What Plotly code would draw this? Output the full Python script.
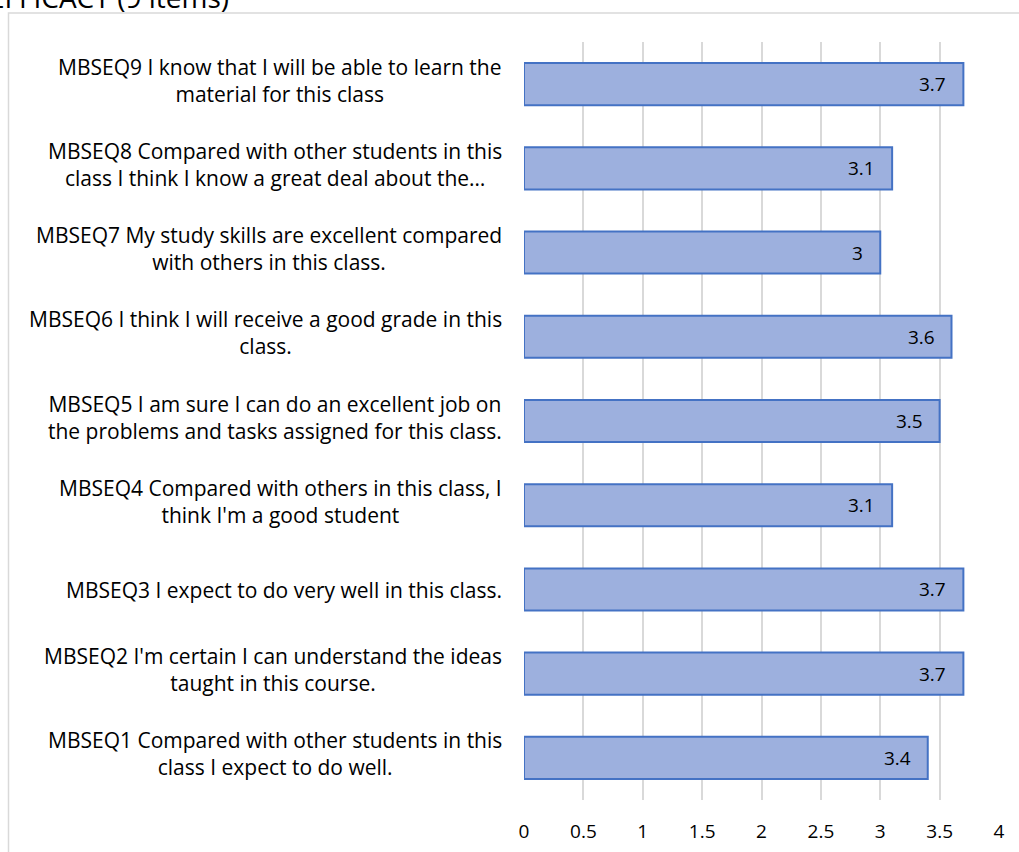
import plotly.graph_objects as go

# Survey items, bottom to top as drawn on the category axis
items = ["MBSEQ1", "MBSEQ2", "MBSEQ3", "MBSEQ4", "MBSEQ5",
         "MBSEQ6", "MBSEQ7", "MBSEQ8", "MBSEQ9"]
item_labels = [
    "MBSEQ1 Compared with other students in this<br>class I expect to do well.",
    "MBSEQ2 I'm certain I can understand the ideas<br>taught in this course.",
    "MBSEQ3 I expect to do very well in this class.",
    "MBSEQ4 Compared with others in this class, I<br>think I'm a good student",
    "MBSEQ5 I am sure I can do an excellent job on<br>the problems and tasks assigned for this class.",
    "MBSEQ6 I think I will receive a good grade in this<br>class.",
    "MBSEQ7 My study skills are excellent compared<br>with others in this class.",
    "MBSEQ8 Compared with other students in this<br>class I think I know a great deal about the…",
    "MBSEQ9 I know that I will be able to learn the<br>material for this class",
]
mean_scores = [3.4, 3.7, 3.7, 3.1, 3.5, 3.6, 3.0, 3.1, 3.7]
x_ticks = [0, 0.5, 1, 1.5, 2, 2.5, 3, 3.5, 4]
title_text = "SELF-EFFICACY (9 items)"

FONT = "Open Sans"
W, H = 1019, 852
L, R, T, B = 524, 20, 42, 52
plot_w = W - L - R
plot_h = H - T - B

fig = go.Figure()
fig.add_trace(go.Bar(
    x=mean_scores,
    y=items,
    orientation="h",
    width=0.5,
    marker=dict(color="#9DB0DE", line=dict(color="#4472C4", width=2)),
    hoverinfo="x+y",
))

# value labels just inside the end of each bar
for item, v in zip(items, mean_scores):
    fig.add_annotation(
        x=v, y=item, xref="x", yref="y",
        text=f"{v:g}", showarrow=False,
        xanchor="right", yanchor="middle", xshift=-15,
        font=dict(family=FONT, size=19, color="#000000"),
    )

# centred, wrapped category labels left of the axis
for item, lab in zip(items, item_labels):
    multi = "<br>" in lab
    fig.add_annotation(
        x=0, y=item, xref="paper", yref="y",
        text=lab, showarrow=False, align="center",
        xanchor="right", yanchor="middle", xshift=-20,
        yshift=4 if multi else -1,
        font=dict(family=FONT, size=21, color="#000000"),
    )

# chart title (runs past the page edge)
fig.add_annotation(
    x=(231 - L) / plot_w, y=1 + (T + 3) / plot_h, xref="paper", yref="paper",
    text=title_text, showarrow=False,
    xanchor="right", yanchor="middle",
    font=dict(family=FONT, size=28, color="#000000"),
)

# chart area frame
fig.add_shape(
    type="rect", xref="paper", yref="paper",
    x0=(8.5 - L) / plot_w, x1=(W + 10 - L) / plot_w,
    y0=-(B + 10) / plot_h, y1=1 + (T - 13) / plot_h,
    line=dict(color="#D9D9D9", width=1.5), fillcolor="rgba(0,0,0,0)",
    layer="below",
)

fig.update_layout(
    width=W, height=H,
    margin=dict(l=L, r=R, t=T, b=B, pad=0, autoexpand=False),
    plot_bgcolor="white", paper_bgcolor="white",
    showlegend=False,
    font=dict(family=FONT, size=19, color="#000000"),
    xaxis=dict(
        range=[0, 4], tickvals=x_ticks, ticktext=[f"{t:g}" for t in x_ticks],
        showgrid=True, gridcolor="#D9D9D9", gridwidth=1.5,
        zeroline=False, showline=False, ticks="",
        ticklabelstandoff=18, automargin=False,
        tickfont=dict(family=FONT, size=19, color="#000000"),
    ),
    yaxis=dict(
        categoryorder="array", categoryarray=items, automargin=False,
        showticklabels=False, showgrid=False, zeroline=False, showline=False,
        range=[-0.5, len(items) - 0.5],
    ),
)

fig.write_html("out.html")
